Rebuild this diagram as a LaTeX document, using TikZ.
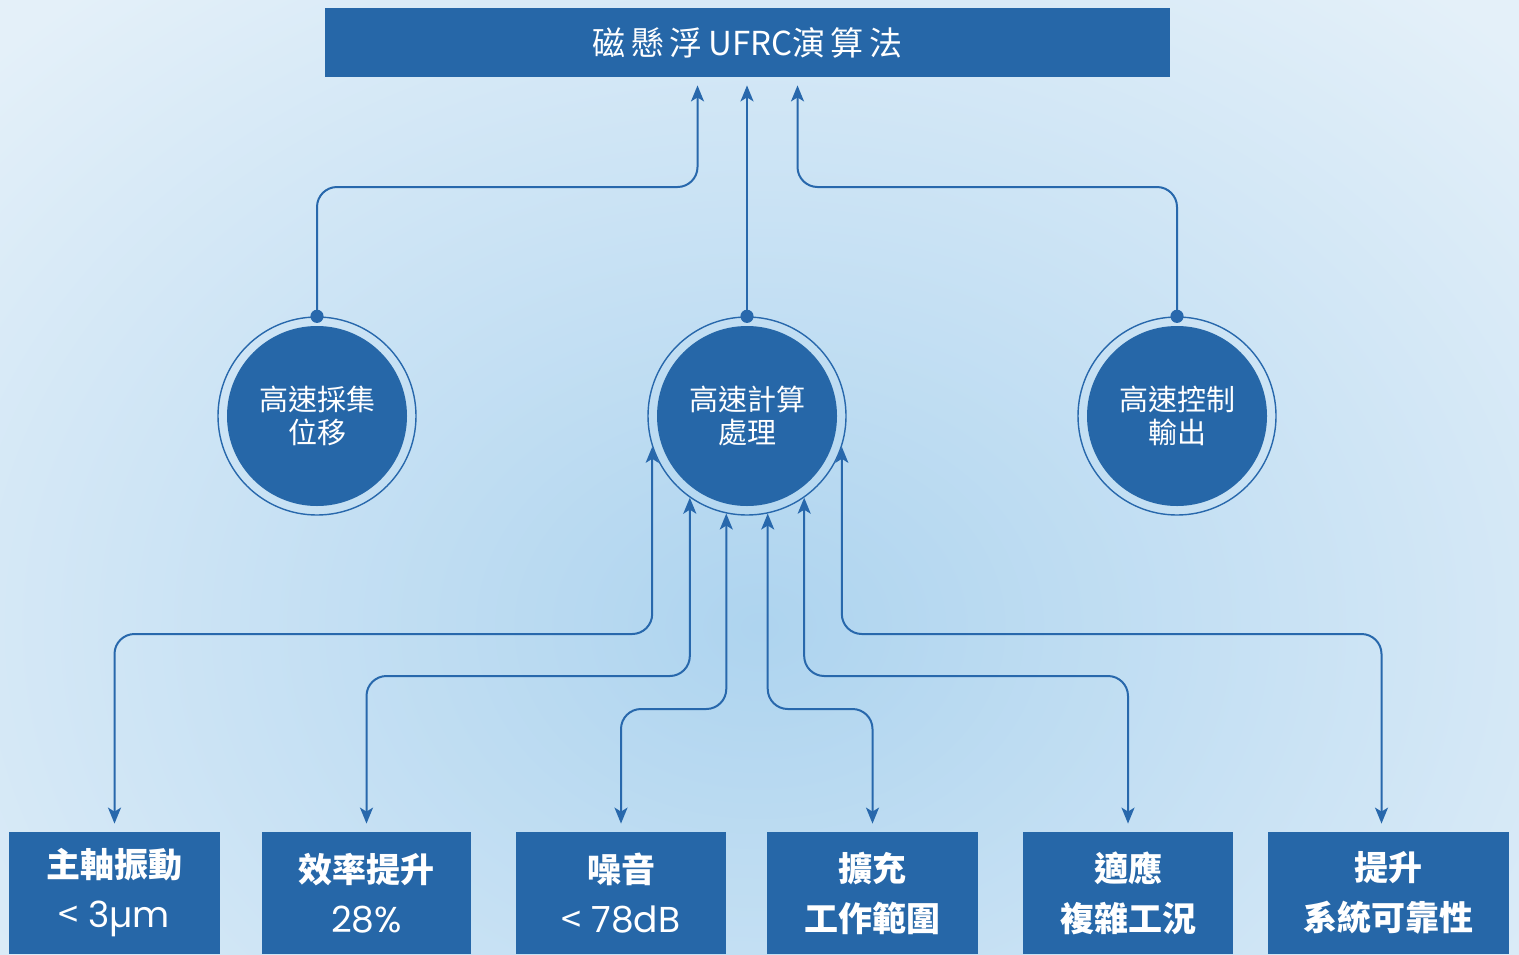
\documentclass[tikz,border=0pt]{standalone}
\usepackage{fontspec}
\setmainfont{Noto Sans CJK TC}
\newfontfamily\latinfont{Poppins}
\usetikzlibrary{positioning,calc,arrows.meta}
\definecolor{boxblue}{RGB}{38,103,168}
\definecolor{lineblue}{RGB}{40,104,172}
\definecolor{bgmid}{RGB}{174,212,239}
\definecolor{bgedge}{RGB}{228,240,249}
\newcommand\lessthan{{\rmfamily\mdseries<}}

\begin{document}
\begin{tikzpicture}[x=0.5pt,y=-0.5pt,
  banner/.style={fill=boxblue,text=white,minimum width=422.5pt,minimum height=34.5pt,
    inner sep=0pt,font=\fontsize{16.5}{18}\selectfont},
  hub/.style={circle,fill=boxblue,text=white,minimum size=90pt,inner sep=0pt,
    align=center,font=\fontsize{14.5}{16.5}\selectfont},
  ring/.style={circle,draw=lineblue,line width=0.7pt,minimum size=99pt,inner sep=0pt},
  goal/.style={fill=boxblue,text=white,minimum height=61pt,inner sep=0pt,
    align=center,font=\bfseries\fontsize{17}{25}\selectfont},
  link/.style={lineblue,line width=1pt,rounded corners=10pt},
  tip/.style={-{Stealth[length=8pt,width=6.5pt,inset=2pt]},shorten >=4pt},
  both/.style={{Stealth[length=8pt,width=6.5pt,inset=2pt]}-{Stealth[length=8pt,width=6.5pt,inset=2pt]},
    shorten >=4pt}]
  \useasboundingbox (0,0) rectangle (1519,954);
  \shade[inner color=bgmid,outer color=bgedge] (-300,-200) rectangle (1819,1454);

  \node[banner] (algo) at (747.5,42.5) {磁\,懸\,浮\,UFRC演\,算\,法};

  \node[ring] (sensering) at (317,416) {};
  \node[ring] (computering) at (747,416) {};
  \node[ring] (drivering) at (1177,416) {};
  \node[hub] (sense) at (317,416) {高速採集\\位移};
  \node[hub] (compute) at (747,416) {高速計算\\處理};
  \node[hub] (drive) at (1177,416) {高速控制\\輸出};

  \draw[link,tip] (sensering.north) -- (sensering.north |- 0,187) -| ([xshift=-25pt]algo.south);
  \draw[link,tip] (computering.north) -- (computering.north |- algo.south);
  \draw[link,tip] (drivering.north) -- (drivering.north |- 0,187) -| ([xshift=25pt]algo.south);
  \foreach \r in {sensering,computering,drivering}
    \fill[lineblue] (\r.north) circle[radius=3.3pt];

  \node[goal,minimum width=105.5pt] (g1) at (114.5,893) {主軸振動\\{\latinfont\mdseries\fontsize{18}{25}\selectfont\lessthan\ 3µm}};
  \node[goal,minimum width=104.5pt] (g2) at (366.5,893) {效率提升\\{\latinfont\mdseries\fontsize{18}{25}\selectfont 28\%}};
  \node[goal,minimum width=105pt] (g3) at (621,893) {噪音\\{\latinfont\mdseries\fontsize{18}{25}\selectfont\lessthan\ 78dB}};
  \node[goal,minimum width=105.5pt] (g4) at (872.5,893) {擴充\\工作範圍};
  \node[goal,minimum width=105pt] (g5) at (1128,893) {適應\\複雜工況};
  \node[goal,minimum width=120.5pt] (g6) at (1388.5,893) {提升\\系統可靠性};
  \coordinate (g6in) at ([xshift=-3.5pt]g6.north);

  \foreach \ang/\lvl/\g in {198/634/g1.north,235/676/g2.north,258/709/g3.north,
                            282/709/g4.north,305/676/g5.north,342/634/g6in}
    \draw[link,both] (computering.\ang) -- (computering.\ang |- 0,\lvl) -| (\g);
\end{tikzpicture}
\end{document}
